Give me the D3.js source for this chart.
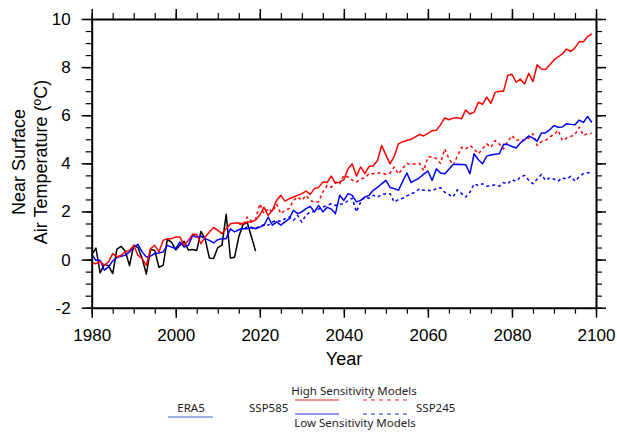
<!DOCTYPE html>
<html lang="en">
  <head>
    <meta charset="UTF-8" />
    <title>Near surface air temperature</title>
    <script src="https://cdn.jsdelivr.net/npm/d3@7"></script>
    <style>
      body { margin: 0; background: #fff; }
      .tick text { font-family: "Liberation Sans", Arial, sans-serif; }
      .legend text { font-family: "Noto Sans", "Open Sans", sans-serif; font-size: 11.5px; fill: #222; }
    </style>
  </head>
  <body>
    <div id="chart"></div>
    <script>
      // ERA5 reanalysis, 1980-2019
      const era5 = [
        0.2, 0.48, -0.55, -0.2, -0.25, -0.58, 0.43, 0.55, 0.35, -0.25,
        0.6, 0.5, 0.05, -0.6, 0.43, 0.38, -0.32, -0.24, 0.84, 0.72,
        0.4, 0.6, 0.76, 0.4, 0.42, 0.38, 1.17, 0.85, 0.07, 0.04,
        0.5, 0.6, 1.88, 0.07, 0.1, 0.95, 1.45, 1.55, 0.95, 0.35
      ];

      // high sensitivity models, historical + SSP585, 1980-2099
      const highSsp585 = [
        -0.14, -0.17, -0.07, -0.24, -0.1, 0.25, 0.11, 0.18, 0.32, 0.39,
        0.59, 0.18, 0.04, -0.24, 0.46, 0.59, 0.32, 0.8, 0.87, 0.87,
        0.94, 0.94, 0.59, 0.8, 1.05, 1.04, 0.66, 0.94, 1.15, 1.33,
        1.22, 1.08, 1.28, 1.49, 1.52, 1.52, 1.49, 1.56, 1.56, 1.65,
        1.85, 2.18, 1.84, 2.05, 2.46, 2.67, 2.43, 2.53, 2.6, 2.67,
        2.74, 2.85, 2.71, 2.95, 3.0, 3.22, 3.2, 3.47, 3.18, 3.22,
        3.32, 3.78, 3.98, 3.47, 3.85, 3.57, 3.87, 3.9, 4.12, 4.74,
        4.35, 3.98, 4.3, 4.81, 4.9, 4.95, 5.0, 5.1, 5.2, 5.14,
        5.25, 5.36, 5.38, 5.6, 5.89, 5.81, 5.88, 5.9, 5.85, 6.22,
        6.05, 6.13, 6.54, 6.45, 6.75, 6.5, 6.95, 7.0, 7.0, 7.65,
        7.7, 7.37, 7.5, 7.3, 7.74, 7.4, 8.1, 7.92, 7.9, 8.1,
        8.3, 8.43, 8.55, 8.75, 8.65, 8.8, 9.06, 9.05, 9.27, 9.38
      ];

      // low sensitivity models, historical + SSP585, 1980-2099
      const lowSsp585 = [
        0.22, -0.03, -0.03, -0.44, -0.3, -0.06, 0.08, 0.14, 0.18, 0.32,
        0.52, 0.63, 0.32, 0.11, 0.14, 0.25, 0.27, 0.32, 0.59, 0.52,
        0.45, 0.73, 0.52, 0.59, 1.0, 0.94, 0.97, 0.87, 0.8, 0.69,
        0.83, 0.87, 0.87, 1.28, 1.15, 1.24, 1.28, 1.28, 1.35, 1.28,
        1.35, 1.42, 1.77, 1.43, 1.57, 1.43, 1.57, 1.7, 2.05, 1.91,
        1.98, 2.12, 2.21, 1.98, 2.25, 1.98, 2.18, 2.1, 1.91, 2.67,
        2.46, 2.74, 2.67, 2.4, 2.46, 2.6, 2.67, 2.88, 3.0, 3.15,
        3.29, 3.0, 2.95, 2.88, 3.25, 3.6, 3.2, 3.3, 3.4, 3.55,
        3.68, 3.29, 3.77, 3.6, 3.57, 3.75, 3.95, 3.96, 3.95, 3.94,
        3.57, 4.4, 4.15, 3.98, 4.3, 4.35, 4.38, 4.4, 4.79, 4.78,
        4.7, 4.64, 4.85, 4.98, 5.14, 5.05, 4.92, 5.26, 5.26, 5.4,
        5.57, 5.5, 5.51, 5.65, 5.62, 5.6, 5.8, 5.7, 5.95, 5.7
      ];

      // high sensitivity models, SSP245, 2015-2099
      const highSsp245 = [
        1.5, 1.42, 1.77, 1.6, 1.66,
        2.32, 1.91, 2.12, 1.98, 2.3, 1.91, 2.05, 2.12, 2.46, 2.6,
        2.46, 2.67, 2.46, 2.39, 2.4, 2.81, 3.08, 3.01, 3.22, 3.15,
        3.5, 3.43, 3.3, 3.22, 3.35, 3.4, 3.57, 3.57, 3.6, 3.6,
        3.55, 3.6, 3.85, 3.56, 3.8, 4.0, 3.95, 3.98, 4.0, 3.7,
        4.26, 4.28, 4.2, 4.0, 4.6, 4.2, 3.93, 4.3, 4.67, 4.6,
        4.74, 4.6, 4.4, 4.6, 4.81, 4.67, 4.95, 4.8, 4.6, 4.9,
        5.16, 4.95, 5.0, 4.95, 5.05, 5.23, 4.74, 4.9, 4.95, 5.1,
        5.2, 5.37, 4.95, 5.05, 5.12, 5.2, 5.5, 5.16, 5.23, 5.25
      ];

      // low sensitivity models, SSP245, 2015-2099
      const lowSsp245 = [
        1.24, 1.28, 1.35, 1.3, 1.29,
        1.4, 1.45, 1.43, 1.56, 1.63, 1.58, 1.7, 1.77, 1.63, 1.84,
        1.56, 1.85, 1.98, 2.0, 2.1, 2.18, 2.25, 2.32, 2.25, 2.3,
        2.32, 2.45, 2.55, 1.98, 2.4, 2.6, 2.55, 2.67, 2.6, 2.7,
        2.74, 2.74, 2.39, 2.5, 2.55, 2.65, 2.74, 2.8, 2.95, 2.88,
        2.88, 2.85, 2.95, 2.99, 2.8, 2.7, 2.6, 2.9, 2.75, 2.6,
        2.8, 3.15, 3.08, 3.15, 3.05, 3.08, 3.1, 3.05, 3.2, 3.15,
        3.32, 3.25, 3.43, 3.5, 3.3, 3.15, 3.35, 3.54, 3.29, 3.4,
        3.35, 3.26, 3.4, 3.35, 3.46, 3.26, 3.45, 3.57, 3.6, 3.63
      ];

      const xTicks = [1980, 2000, 2020, 2040, 2060, 2080, 2100];
      const yTicks = [-2, 0, 2, 4, 6, 8, 10];

      const width = 617,
        height = 432;

      const x = d3.scaleLinear().domain([1980, 2100]).range([91.7, 596]);
      const y = d3.scaleLinear().domain([-2, 10]).range([307.7, 19]);

      const svg = d3
        .select("#chart")
        .append("svg")
        .attr("width", width)
        .attr("height", height);

      function toPoints(values, start) {
        return values.map(function (v, i) {
          return { year: start + i, value: v };
        });
      }

      const series = [
        { data: toPoints(era5, 1980), color: "#000", dash: null },
        { data: toPoints(lowSsp245, 2015), color: "#0000ff", dash: "3,3" },
        { data: toPoints(highSsp245, 2015), color: "#ff0000", dash: "3,3" },
        { data: toPoints(lowSsp585, 1980), color: "#0000ff", dash: null },
        { data: toPoints(highSsp585, 1980), color: "#ff0000", dash: null }
      ];

      const line = d3
        .line()
        .x(function (d) { return x(d.year); })
        .y(function (d) { return y(d.value); });

      svg
        .selectAll(".series")
        .data(series)
        .enter()
        .append("path")
        .attr("class", "series")
        .attr("fill", "none")
        .attr("stroke", function (d) { return d.color; })
        .attr("stroke-width", 1.5)
        .attr("stroke-linejoin", "round")
        .attr("stroke-dasharray", function (d) { return d.dash; })
        .attr("d", function (d) { return line(d.data); });

      // axes: majors labelled, minors every 5 yr / 0.5 deg, all pointing outward
      const xMinor = d3.range(1980, 2101, 5);
      const yMinor = d3.range(-2, 10.01, 0.5);
      const fmt = function (d) { return String(d); };

      function drawAxis(axisFn, scale, major, minor, transform, labels) {
        const gMinor = svg
          .append("g")
          .attr("transform", transform)
          .call(axisFn(scale).tickValues(minor).tickSize(6).tickFormat("").tickSizeOuter(0));
        gMinor.select(".domain").remove();
        gMinor.selectAll("line").attr("stroke-width", 1.2);
        const g = svg
          .append("g")
          .attr("transform", transform)
          .call(
            axisFn(scale)
              .tickValues(major)
              .tickSize(10)
              .tickSizeOuter(0)
              .tickPadding(labels ? 11 : 0)
              .tickFormat(labels ? fmt : "")
          );
        g.select(".domain").attr("stroke-width", 2);
        g.selectAll("line").attr("stroke-width", 1.5);
        g.selectAll("text").attr("font-size", 17).attr("fill", "#000");
        return g;
      }

      drawAxis(d3.axisBottom, x, xTicks, xMinor, "translate(0,307.7)", true);
      drawAxis(d3.axisTop, x, xTicks, xMinor, "translate(0,19)", false);
      drawAxis(d3.axisLeft, y, yTicks, yMinor, "translate(91.7,0)", true);
      drawAxis(d3.axisRight, y, yTicks, yMinor, "translate(596,0)", false);

      svg
        .append("text")
        .attr("x", 344)
        .attr("y", 365)
        .attr("text-anchor", "middle")
        .attr("font-family", "Liberation Sans, Arial, sans-serif")
        .attr("font-size", 18)
        .text("Year");

      const yTitle = svg
        .append("text")
        .attr("transform", "translate(0,162) rotate(-90)")
        .attr("text-anchor", "middle")
        .attr("font-family", "Liberation Sans, Arial, sans-serif")
        .attr("font-size", 18);
      yTitle.append("tspan").attr("x", 0).attr("y", 25).text("Near Surface");
      yTitle.append("tspan").attr("x", 0).attr("y", 47).text("Air Temperature (ºC)");

      // legend
      const legendLines = [
        { x1: 168, x2: 213, y: 417, color: "#4466cc", dash: null },
        { x1: 295, x2: 339, y: 400, color: "#ee2222", dash: null },
        { x1: 363, x2: 408, y: 400, color: "#ee2222", dash: "4,4" },
        { x1: 295, x2: 339, y: 414, color: "#2233dd", dash: null },
        { x1: 363, x2: 408, y: 414, color: "#2233dd", dash: "4,4" }
      ];
      const legendTexts = [
        { x: 191, y: 412, anchor: "middle", label: "ERA5" },
        { x: 249, y: 412, anchor: "start", label: "SSP585" },
        { x: 354, y: 395, anchor: "middle", label: "High Sensitivity Models" },
        { x: 416, y: 412, anchor: "start", label: "SSP245" },
        { x: 355, y: 427, anchor: "middle", label: "Low Sensitivity Models" }
      ];

      const legend = svg.append("g").attr("class", "legend");
      legend
        .selectAll("line")
        .data(legendLines)
        .enter()
        .append("line")
        .attr("x1", function (d) { return d.x1; })
        .attr("x2", function (d) { return d.x2; })
        .attr("y1", function (d) { return d.y; })
        .attr("y2", function (d) { return d.y; })
        .attr("stroke", function (d) { return d.color; })
        .attr("stroke-width", 1.2)
        .attr("stroke-dasharray", function (d) { return d.dash; });
      legend
        .selectAll("text")
        .data(legendTexts)
        .enter()
        .append("text")
        .attr("x", function (d) { return d.x; })
        .attr("y", function (d) { return d.y; })
        .attr("text-anchor", function (d) { return d.anchor; })
        .text(function (d) { return d.label; });
    </script>
  </body>
</html>
